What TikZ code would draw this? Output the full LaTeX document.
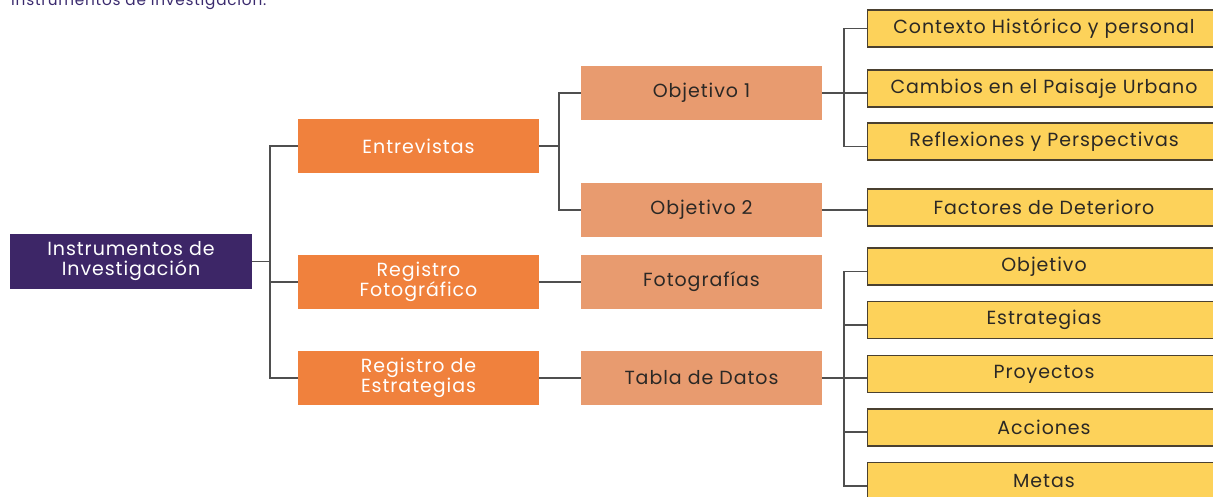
\documentclass[tikz,border=0pt]{standalone}
\usepackage{fontspec}
\setmainfont{Poppins}[LetterSpace=5]
\definecolor{cPurple}{HTML}{3D2667}
\definecolor{cOrange}{HTML}{F0813D}
\definecolor{cSalmon}{HTML}{E89B6F}
\definecolor{cYellow}{HTML}{FDD25A}
\definecolor{cYBorder}{HTML}{4A4030}
\definecolor{cText}{HTML}{2B2825}
\definecolor{cLine}{HTML}{4F4F4F}
\definecolor{cTitle}{HTML}{3A2A6E}
\begin{document}
\begin{tikzpicture}[x=1pt,y=-1pt,
  base/.style={rectangle, inner sep=0pt, align=center, anchor=center,
    font=\fontsize{19}{20}\selectfont},
  rootbox/.style={base, fill=cPurple, text=white, minimum width=242pt, minimum height=55pt},
  lvlone/.style={base, fill=cOrange, text=white, minimum width=241pt, minimum height=54pt},
  lvltwo/.style={base, fill=cSalmon, text=cText, minimum width=241pt, minimum height=54pt},
  lvlthree/.style={base, fill=cYellow, draw=cYBorder, line width=1.1pt, text=cText,
    minimum width=353pt, minimum height=37pt},
  conn/.style={draw=cLine, line width=1.1pt}]
\useasboundingbox (0,0) rectangle (1213,496);
\clip (0,0) rectangle (1213,496);

\node[anchor=base west, text=cTitle, inner sep=0pt, font=\fontsize{15.3}{16}\selectfont] (title) at (11,5) {Instrumentos de investigación.};

\node[rootbox] (root) at (131,261.5) {Instrumentos de\\Investigación};

\node[lvlone] (ent) at (418.5,146) {Entrevistas};
\node[lvlone] (reg) at (418.5,282) {Registro\\Fotográfico};
\node[lvlone] (est) at (418.5,378) {Registro de\\Estrategias};

\node[lvltwo] (ob1) at (701.5,93) {Objetivo 1};
\node[lvltwo] (ob2) at (701.5,210) {Objetivo 2};
\node[lvltwo] (fot) at (701.5,282) {Fotografías};
\node[lvltwo] (tab) at (701.5,378) {Tabla de Datos};

\node[lvlthree] (ctx) at (1044,28.5) {Contexto Histórico y personal};
\node[lvlthree] (cam) at (1044,88.5) {Cambios en el Paisaje Urbano};
\node[lvlthree] (ref) at (1044,141.5) {Reflexiones y Perspectivas};
\node[lvlthree] (fac) at (1044,207.5) {Factores de Deterioro};
\node[lvlthree] (obj) at (1044,266.5) {Objetivo};
\node[lvlthree] (estr) at (1044,320) {Estrategias};
\node[lvlthree] (pro) at (1044,374) {Proyectos};
\node[lvlthree] (acc) at (1044,427.5) {Acciones};
\node[lvlthree] (met) at (1044,481) {Metas};

\coordinate (t1) at (270,261.5);
\coordinate (t2) at (559,146);
\coordinate (t3) at (844,93);
\coordinate (t4) at (844,378);

\draw[conn] (root.east) -- (t1);
\draw[conn] (ent.west) -| (t1) |- (est.west);
\draw[conn] (t1) |- (reg.west);

\draw[conn] (ent.east) -- (t2);
\draw[conn] (ob1.west) -| (t2) |- (ob2.west);
\draw[conn] (reg.east) -- (fot.west);
\draw[conn] (est.east) -- (tab.west);

\draw[conn] (ob1.east) -- (t3);
\draw[conn] (ctx.west) -| (t3) |- ([yshift=-5pt]ref.west);
\draw[conn] (t3) -- ([yshift=-4.5pt]cam.west);
\draw[conn] (ob2.east) -- (fac.west |- ob2.east);

\draw[conn] (tab.east) -- (t4);
\draw[conn] ([yshift=-5pt]obj.west) -| (t4) |- ([yshift=-5pt]met.west);
\draw[conn] (t4) |- ([yshift=-5pt]estr.west);
\draw[conn] (t4) |- ([yshift=-4.5pt]acc.west);
\draw[conn] (t4) -- ([yshift=-4pt]pro.west);
\end{tikzpicture}
\end{document}
